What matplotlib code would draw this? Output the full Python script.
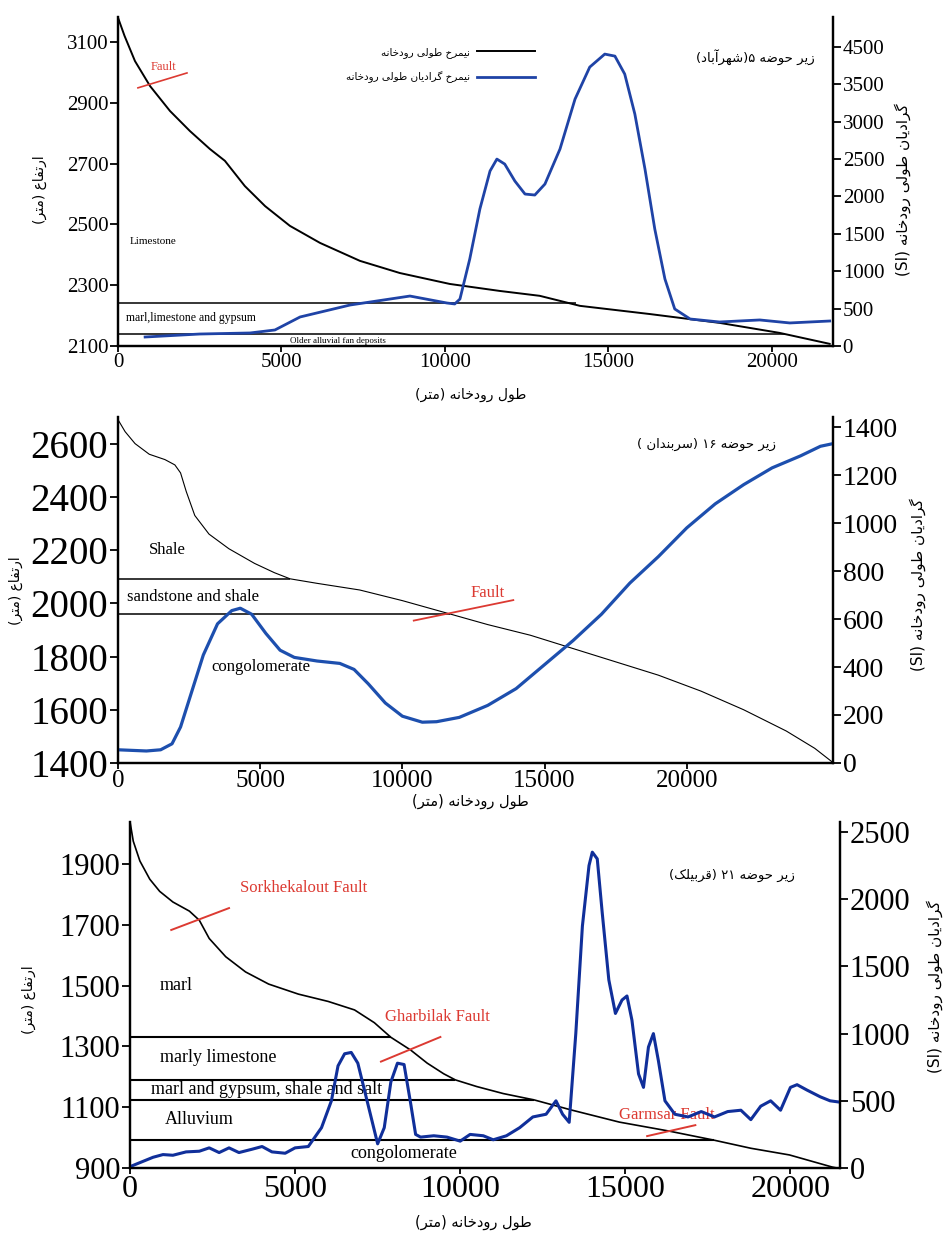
import matplotlib
matplotlib.use("Agg")
import matplotlib.pyplot as plt

plt.rcParams['font.family'] = ['Liberation Serif', 'DejaVu Sans']

# --- simple Persian shaping + right-to-left ordering (no bidi libs offline) ---
FORMS = {
    'ا': ('\uFE8D', '\uFE8E', None, None),
    'آ': ('\uFE81', '\uFE82', None, None),
    'ب': ('\uFE8F', '\uFE90', '\uFE91', '\uFE92'),
    'پ': ('\uFB56', '\uFB57', '\uFB58', '\uFB59'),
    'ت': ('\uFE95', '\uFE96', '\uFE97', '\uFE98'),
    'ج': ('\uFE9D', '\uFE9E', '\uFE9F', '\uFEA0'),
    'ح': ('\uFEA1', '\uFEA2', '\uFEA3', '\uFEA4'),
    'خ': ('\uFEA5', '\uFEA6', '\uFEA7', '\uFEA8'),
    'د': ('\uFEA9', '\uFEAA', None, None),
    'ر': ('\uFEAD', '\uFEAE', None, None),
    'ز': ('\uFEAF', '\uFEB0', None, None),
    'س': ('\uFEB1', '\uFEB2', '\uFEB3', '\uFEB4'),
    'ش': ('\uFEB5', '\uFEB6', '\uFEB7', '\uFEB8'),
    'ض': ('\uFEBD', '\uFEBE', '\uFEBF', '\uFEC0'),
    'ط': ('\uFEC1', '\uFEC2', '\uFEC3', '\uFEC4'),
    'ع': ('\uFEC9', '\uFECA', '\uFECB', '\uFECC'),
    'ف': ('\uFED1', '\uFED2', '\uFED3', '\uFED4'),
    'ق': ('\uFED5', '\uFED6', '\uFED7', '\uFED8'),
    '\u06A9': ('\uFB8E', '\uFB8F', '\uFB90', '\uFB91'),
    'گ': ('\uFB92', '\uFB93', '\uFB94', '\uFB95'),
    'ل': ('\uFEDD', '\uFEDE', '\uFEDF', '\uFEE0'),
    'م': ('\uFEE1', '\uFEE2', '\uFEE3', '\uFEE4'),
    'ن': ('\uFEE5', '\uFEE6', '\uFEE7', '\uFEE8'),
    'ه': ('\uFEE9', '\uFEEA', '\uFEEB', '\uFEEC'),
    'و': ('\uFEED', '\uFEEE', None, None),
    '\u06CC': ('\uFBFC', '\uFBFD', '\uFBFE', '\uFBFF'),
}
MIRROR = {'(': ')', ')': '('}


def fa(text):
    text = text.replace('\u064A', '\u06CC').replace('\u0643', '\u06A9')
    shaped = []
    for i, c in enumerate(text):
        if c not in FORMS:
            shaped.append(c)
            continue
        prev = text[i - 1] if i > 0 else None
        nxt = text[i + 1] if i + 1 < len(text) else None
        iso, fin, ini, med = FORMS[c]
        jp = prev in FORMS and FORMS[prev][2] is not None
        jn = nxt in FORMS and ini is not None
        if jp and jn:
            shaped.append(med)
        elif jp:
            shaped.append(fin)
        elif jn:
            shaped.append(ini)
        else:
            shaped.append(iso)
    # split into runs, LTR = latin letters / digits
    runs = []
    for c in shaped:
        ltr = (c.isascii() and c.isalnum()) or ('\u06F0' <= c <= '\u06F9')
        if runs and runs[-1][0] == ltr:
            runs[-1][1].append(c)
        else:
            runs.append([ltr, [c]])
    out = ''
    for ltr, chars in reversed(runs):
        if ltr:
            out += ''.join(chars)
        else:
            out += ''.join(MIRROR.get(c, c) for c in reversed(chars))
    return out


FA = 'DejaVu Sans'
BLUE1 = '#1f43a6'
BLUE3 = '#102f9a'
RED = '#dc3a32'

# ---------------- data: panel 1 (sub-basin 5) ----------------
p1_dist = [0, 200, 520, 980, 1590, 2200, 2810, 3270, 3880, 4500, 5260, 6180, 7400,
           8620, 10150, 11680, 12900, 14130, 16270, 18400, 20240, 21770]
p1_elev = [3180, 3120, 3037, 2955, 2873, 2807, 2748, 2709, 2626, 2560, 2495, 2439, 2380,
           2340, 2304, 2281, 2265, 2232, 2205, 2176, 2143, 2107]
p1_gdist = [830, 2500, 4040, 4800, 5570, 7100, 8930, 10060, 10300, 10460, 10760, 11070,
            11380, 11590, 11830, 12140, 12450, 12750, 13060, 13520, 13980, 14430, 14890,
            15200, 15500, 15810, 16120, 16420, 16730, 17030, 17500, 18400, 19630, 20550, 21770]
p1_grad = [120, 160, 174, 214, 388, 548, 668, 575, 562, 628, 1163, 1832,
           2340, 2500, 2433, 2206, 2032, 2019, 2166, 2634, 3302, 3730, 3904,
           3877, 3637, 3102, 2366, 1564, 896, 495, 361, 321, 348, 308, 334]
p1_layer_top = [2242, 2140]
p1_layer_end = [14000, 20400]
p1_layer_names = ['Limestone', 'marl,limestone and gypsum', 'Older alluvial fan deposits']
p1_fault_x = [610, 2110]
p1_fault_y = [2949, 2998]
p1_yticks = [2100, 2300, 2500, 2700, 2900, 3100]
p1_rticks = [0, 500, 1000, 1500, 2000, 2500, 3000, 3500, 4000]
p1_rlabels = ['0', '500', '1000', '1500', '2000', '2500', '3000', '3500', '4500']

# ---------------- data: panel 2 (sub-basin 16) ----------------
p2_dist = [0, 250, 600, 1100, 1650, 2000, 2200, 2400, 2700, 3200, 3900, 4800, 5500, 6050,
           7000, 8500, 10000, 11670, 13000, 14500, 16000, 17500, 19000, 20500, 22000,
           23500, 24500, 25100]
p2_elev = [2690, 2645, 2600, 2560, 2540, 2520, 2490, 2420, 2330, 2260, 2205, 2150, 2115,
           2092, 2075, 2050, 2010, 1960, 1920, 1880, 1830, 1780, 1730, 1670, 1600,
           1520, 1455, 1405]
p2_gdist = [0, 1000, 1500, 1900, 2200, 2600, 3000, 3500, 4000, 4300, 4700, 5200, 5700,
            6200, 7000, 7800, 8300, 8800, 9400, 10000, 10700, 11200, 12000, 13000, 14000,
            15000, 16000, 17000, 18000, 19000, 20000, 21000, 22000, 23000, 24000, 24700, 25100]
p2_grad = [55, 50, 55, 80, 150, 300, 450, 580, 635, 645, 620, 540, 470,
           440, 425, 415, 390, 330, 250, 195, 170, 172, 190, 240, 310,
           410, 510, 620, 750, 860, 980, 1080, 1160, 1230, 1280, 1320, 1330]
p2_layer_top = [2092, 1960]
p2_layer_end = [6050, 11670]
p2_layer_names = ['Shale', 'sandstone and shale', 'congolomerate']
p2_fault_x = [10400, 13900]
p2_fault_y = [1935, 2012]
p2_yticks = [1400, 1600, 1800, 2000, 2200, 2400, 2600]
p2_rticks = [0, 200, 400, 600, 800, 1000, 1200, 1400]

# ---------------- data: panel 3 (sub-basin 21) ----------------
p3_dist = [0, 100, 300, 600, 900, 1300, 1800, 2100, 2400, 2900, 3500, 4200, 5100, 6000,
           6800, 7400, 7900, 8500, 9000, 9500, 9850, 10500, 11300, 12240, 13360, 14820,
           16300, 17670, 18800, 19970, 21270, 21500]
p3_elev = [2040, 1975, 1910, 1850, 1810, 1775, 1745, 1715, 1655, 1595, 1545, 1505, 1472,
           1448, 1420, 1378, 1330, 1288, 1245, 1210, 1190, 1168, 1145, 1124, 1091, 1051,
           1022, 992, 965, 943, 903, 898]
p3_gdist = [0, 300, 700, 1000, 1300, 1700, 2100, 2400, 2700, 3000, 3300, 3700, 4000, 4300,
            4700, 5000, 5400, 5800, 6100, 6300, 6500, 6700, 6900, 7200, 7500, 7700, 7900,
            8100, 8300, 8500, 8650, 8800, 9200, 9600, 10000, 10300, 10700, 11000, 11400,
            11800, 12200, 12600, 12900, 13100, 13300, 13500, 13700, 13900, 14000, 14150,
            14300, 14500, 14700, 14900, 15050, 15200, 15400, 15550, 15700, 15850, 16000,
            16200, 16500, 16900, 17300, 17700, 18100, 18500, 18800, 19100, 19400, 19700,
            20000, 20200, 20500, 20900, 21200, 21500]
p3_grad = [10, 40, 80, 100, 95, 120, 125, 150, 115, 150, 115, 140, 160, 120,
           110, 150, 160, 300, 500, 760, 850, 860, 780, 480, 180, 300, 640,
           780, 770, 480, 250, 230, 240, 230, 200, 250, 240, 210, 240,
           300, 380, 400, 500, 400, 340, 1000, 1800, 2250, 2350, 2300,
           1900, 1400, 1150, 1250, 1280, 1100, 700, 600, 900, 1000, 800,
           500, 400, 380, 420, 380, 420, 430, 360, 460, 500, 430,
           600, 620, 580, 530, 500, 490]
p3_layer_top = [1330, 1190, 1124, 992]
p3_layer_end = [7900, 9850, 12240, 17670]
p3_layer_names = ['marl', 'marly limestone', 'marl and gypsum, shale and salt',
                  'Alluvium', 'congolomerate']
p3_faults = [([1250, 3000], [1683, 1755]),
             ([7600, 9400], [1250, 1331]),
             ([15660, 17120], [1005, 1041])]
p3_fault_names = ['Sorkhekalout Fault', 'Gharbilak Fault', 'Garmsar Fault']
p3_yticks = [900, 1100, 1300, 1500, 1700, 1900]
p3_rticks = [0, 500, 1000, 1500, 2000, 2500]

xticks = [0, 5000, 10000, 15000, 20000]

# ---------------- text ----------------
leg_profile = 'نیمرخ طولی رودخانه'
leg_gradient = 'نیمرخ گرادیان طولی رودخانه'
title1 = 'زیر حوضه \u06F5(شهرآباد)'
title2 = 'زیر حوضه \u06F1\u06F6 (سربندان )'
title3 = 'زیر حوضه \u06F2\u06F1 (قربیلک)'
ylab_left = 'ارتفاع (متر)'
ylab_right = 'گرادیان طولی رودخانه (SI)'
xlab = 'طول رودخانه (متر)'

fig = plt.figure(figsize=(9.5, 12.33), dpi=100)


def make_panel(rect, xmax, ylim, rlim, fs_l, fs_r, fs_x):
    ax = fig.add_axes(rect)
    ax.set_xlim(0, xmax)
    ax.set_ylim(*ylim)
    ax2 = ax.twinx()
    ax2.set_ylim(*rlim)
    for a in (ax, ax2):
        a.spines['top'].set_visible(False)
        for s in ('left', 'right', 'bottom'):
            a.spines[s].set_linewidth(1.6)
        a.patch.set_visible(False)
    ax.set_xticks(xticks)
    ax.tick_params(axis='x', labelsize=fs_x, length=4, width=1.3, pad=1)
    ax.tick_params(axis='y', labelsize=fs_l, length=6, width=1.3, pad=1)
    ax2.tick_params(axis='y', labelsize=fs_r, length=6, width=1.3, pad=1)
    return ax, ax2


# ===== panel 1 =====
ax, ax2 = make_panel([0.1242, 0.7194, 0.7526, 0.2668], 21870, (2100, 3182), (0, 4400),
                     15, 15, 15)
l1, = ax.plot(p1_dist, p1_elev, color='black', lw=1.4, label=fa(leg_profile))
ax.hlines(p1_layer_top, 0, p1_layer_end, color='black', lw=1.1)
l2, = ax2.plot(p1_gdist, p1_grad, color=BLUE1, lw=2.0, label=fa(leg_gradient))
ax.plot(p1_fault_x, p1_fault_y, color=RED, lw=1.2)
ax.text(1000, 3018, 'Fault', color=RED, fontsize=9, va='center')
ax.text(370, 2445, p1_layer_names[0], fontsize=8, va='center')
ax.text(250, 2193, p1_layer_names[1], fontsize=8.5, va='center')
ax.text(5260, 2117, p1_layer_names[2], fontsize=6.5, va='center')
ax.set_yticks(p1_yticks)
ax2.set_yticks(p1_rticks)
ax2.set_yticklabels(p1_rlabels)
ax2.legend(handles=[l1, l2], markerfirst=False, frameon=False, loc='upper right',
           bbox_to_anchor=(0.59, 0.925), prop={'family': FA, 'size': 7.5},
           handlelength=5.5, handletextpad=0.7, labelspacing=1.3, borderpad=0)
ax2.text(0.975, 0.878, fa(title1), transform=ax2.transAxes, ha='right', va='center',
         family=FA, fontsize=9.5)
fig.text(0.495, 0.680, fa(xlab), ha='center', va='center', family=FA, fontsize=10)
fig.text(0.042, 0.846, fa(ylab_left), rotation=90, ha='center', va='center', family=FA, fontsize=10)
fig.text(0.950, 0.846, fa(ylab_right), rotation=90, ha='center', va='center', family=FA, fontsize=11)

# ===== panel 2 =====
ax, ax2 = make_panel([0.1242, 0.3812, 0.7526, 0.2806], 25140, (1400, 2700), (0, 1442),
                     28, 20, 18)
ax.plot(p2_dist, p2_elev, color='black', lw=0.8)
ax.hlines(p2_layer_top, 0, p2_layer_end, color='black', lw=1.1)
ax2.plot(p2_gdist, p2_grad, color='#1d4fae', lw=2.3)
ax.plot(p2_fault_x, p2_fault_y, color=RED, lw=1.3)
ax.text(12400, 2040, 'Fault', color=RED, fontsize=12, va='center')
ax.text(1100, 2200, p2_layer_names[0], fontsize=12, va='center')
ax.text(300, 2025, p2_layer_names[1], fontsize=12, va='center')
ax.text(3300, 1760, p2_layer_names[2], fontsize=12, va='center')
ax.set_yticks(p2_yticks)
ax2.set_yticks(p2_rticks)
ax2.text(0.92, 0.92, fa(title2), transform=ax2.transAxes, ha='right', va='center',
         family=FA, fontsize=9.5)
fig.text(0.495, 0.350, fa(xlab), ha='center', va='center', family=FA, fontsize=10.5)
fig.text(0.017, 0.521, fa(ylab_left), rotation=90, ha='center', va='center', family=FA, fontsize=10)
fig.text(0.966, 0.526, fa(ylab_right), rotation=90, ha='center', va='center', family=FA, fontsize=11)

# ===== panel 3 =====
ax, ax2 = make_panel([0.1368, 0.0527, 0.7474, 0.2806], 21500, (900, 2038), (0, 2574),
                     22, 22, 23)
ax.plot(p3_dist, p3_elev, color='black', lw=1.2)
ax.hlines(p3_layer_top, 0, p3_layer_end, color='black', lw=1.5)
ax2.plot(p3_gdist, p3_grad, color=BLUE3, lw=2.2)
for (fx, fy) in p3_faults:
    ax.plot(fx, fy, color=RED, lw=1.4)
ax.text(3330, 1820, p3_fault_names[0], color=RED, fontsize=12, va='center')
ax.text(7730, 1397, p3_fault_names[1], color=RED, fontsize=12, va='center')
ax.text(14820, 1074, p3_fault_names[2], color=RED, fontsize=12, va='center')
ax.text(900, 1500, p3_layer_names[0], fontsize=13, va='center')
ax.text(900, 1262, p3_layer_names[1], fontsize=13, va='center')
ax.text(650, 1157, p3_layer_names[2], fontsize=13, va='center')
ax.text(1060, 1058, p3_layer_names[3], fontsize=13, va='center')
ax.text(6670, 948, p3_layer_names[4], fontsize=13, va='center')
ax.set_yticks(p3_yticks)
ax2.set_yticks(p3_rticks)
ax2.text(0.937, 0.847, fa(title3), transform=ax2.transAxes, ha='right', va='center',
         family=FA, fontsize=9.5)
fig.text(0.498, 0.009, fa(xlab), ha='center', va='center', family=FA, fontsize=10.5)
fig.text(0.030, 0.189, fa(ylab_left), rotation=90, ha='center', va='center', family=FA, fontsize=10)
fig.text(0.984, 0.200, fa(ylab_right), rotation=90, ha='center', va='center', family=FA, fontsize=11)

fig.savefig('out.png', dpi=100)
